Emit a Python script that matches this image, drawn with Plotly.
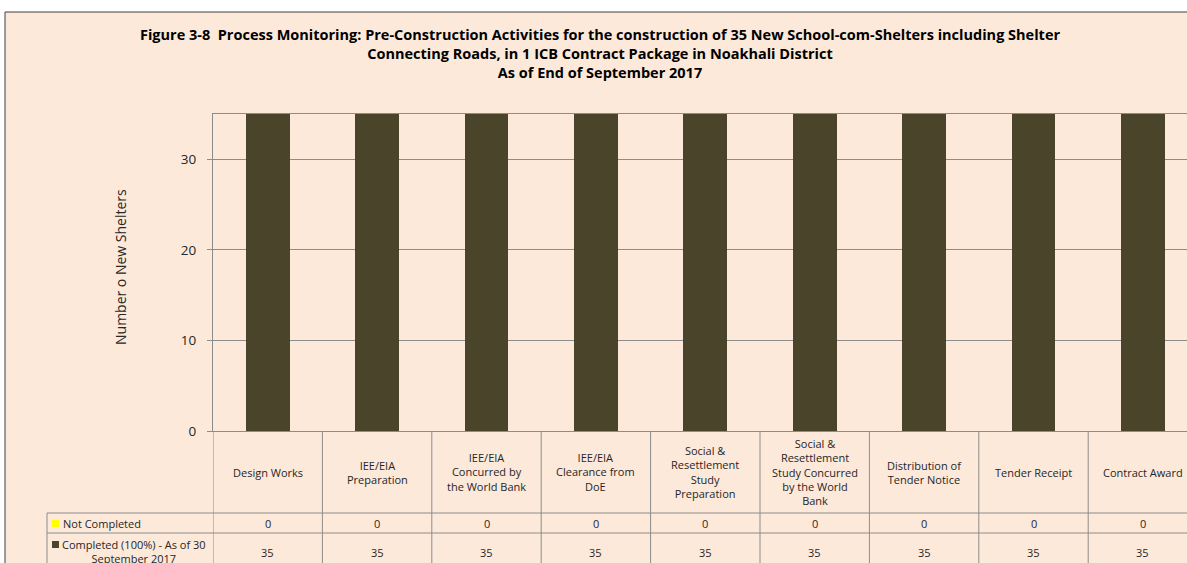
import plotly.graph_objects as go

# data
categories = ["Design Works", "IEE/EIA Preparation", "IEE/EIA Concurred by the World Bank",
              "IEE/EIA Clearance from DoE", "Social & Resettlement Study Preparation",
              "Social & Resettlement Study Concurred by the World Bank",
              "Distribution of Tender Notice", "Tender Receipt", "Contract Award"]
header_labels = ["Design Works", "IEE/EIA<br>Preparation", "IEE/EIA<br>Concurred by<br>the World Bank",
                 "IEE/EIA<br>Clearance from<br>DoE", "Social &amp;<br>Resettlement<br>Study<br>Preparation",
                 "Social &amp;<br>Resettlement<br>Study Concurred<br>by the World<br>Bank",
                 "Distribution of<br>Tender Notice", "Tender Receipt", "Contract Award"]
not_completed = [0, 0, 0, 0, 0, 0, 0, 0, 0]
completed = [35, 35, 35, 35, 35, 35, 35, 35, 35]
y_ticks = [0, 10, 20, 30]

title = ("Figure 3-8  Process Monitoring: Pre-Construction Activities for the construction of 35 New "
         "School-com-Shelters including Shelter<br>Connecting Roads, in 1 ICB Contract Package in "
         "Noakhali District<br>As of End of September 2017")

BG = "#FDE9DA"
BAR = "#4A452A"
YEL = "#FFFF00"
LINE = "#8C8C8C"
TXT = "#262626"
FONT = "Open Sans"

# plot box in pixels
W_FIG, H_FIG = 1187, 563
L, T, B = 213, 114, 431
W, H = W_FIG - L, B - T


def px_x(p):
    return (p - L) / W


def px_y(p):
    return (B - p) / H


idx = list(range(len(categories)))

fig = go.Figure()
fig.add_trace(go.Bar(x=idx, y=completed, name="Completed (100%) - As of 30 September 2017",
                     marker=dict(color=BAR, line=dict(width=0)), width=0.4))
fig.add_trace(go.Bar(x=idx, y=not_completed, name="Not Completed",
                     marker=dict(color=YEL, line=dict(width=0)), width=0.4))

shapes = []
# chart frame
shapes.append(dict(type="rect", xref="paper", yref="paper", x0=px_x(5), x1=1.2, y0=px_y(12), y1=-0.8,
                   fillcolor=BG, line=dict(color="#404040", width=1), layer="below"))
# data table: column dividers
for k in range(-1, len(categories)):
    shapes.append(dict(type="line", xref="x", yref="paper", x0=k + 0.5, x1=k + 0.5,
                       y0=0, y1=px_y(600), line=dict(color=LINE, width=1)))
# table left edge and horizontal rules
shapes.append(dict(type="line", xref="paper", yref="paper", x0=px_x(47), x1=px_x(47),
                   y0=px_y(513), y1=px_y(600), line=dict(color=LINE, width=1)))
for yy in (513, 533):
    shapes.append(dict(type="line", xref="paper", yref="paper", x0=px_x(47), x1=1.1,
                       y0=px_y(yy), y1=px_y(yy), line=dict(color=LINE, width=1)))
# legend keys
shapes.append(dict(type="rect", xref="paper", yref="paper", x0=px_x(52), x1=px_x(59),
                   y0=px_y(520), y1=px_y(527), fillcolor=YEL, line=dict(width=0)))
shapes.append(dict(type="rect", xref="paper", yref="paper", x0=px_x(52), x1=px_x(59),
                   y0=px_y(541), y1=px_y(548), fillcolor=BAR, line=dict(width=0)))

ann = []
for i, lab in enumerate(header_labels):
    ann.append(dict(x=i, y=px_y(472), xref="x", yref="paper", text=lab, showarrow=False,
                    font=dict(family=FONT, size=11, color=TXT), align="center",
                    xanchor="center", yanchor="middle"))
    ann.append(dict(x=i, y=px_y(523), xref="x", yref="paper", text=str(not_completed[i]),
                    showarrow=False, font=dict(family=FONT, size=11, color=TXT),
                    xanchor="center", yanchor="middle"))
    ann.append(dict(x=i, y=px_y(552), xref="x", yref="paper", text=str(completed[i]),
                    showarrow=False, font=dict(family=FONT, size=11, color=TXT),
                    xanchor="center", yanchor="middle"))
ann.append(dict(x=px_x(61), y=px_y(523), xref="paper", yref="paper", text="Not Completed",
                showarrow=False, font=dict(family=FONT, size=11, color=TXT),
                xanchor="left", yanchor="middle"))
ann.append(dict(x=px_x(134), y=px_y(551), xref="paper", yref="paper",
                text="Completed (100%) - As of 30<br>September 2017", showarrow=False,
                font=dict(family=FONT, size=11, color=TXT), align="center",
                xanchor="center", yanchor="middle"))
ann.append(dict(x=px_x(120), y=px_y(267), xref="paper", yref="paper", text="Number o New Shelters",
                textangle=-90, showarrow=False, font=dict(family=FONT, size=14, color=TXT),
                xanchor="center", yanchor="middle"))

fig.update_layout(
    width=W_FIG, height=H_FIG,
    margin=dict(l=L, r=0, t=T, b=H_FIG - B, pad=0),
    paper_bgcolor="white", plot_bgcolor="rgba(0,0,0,0)",
    barmode="stack", showlegend=False,
    title=dict(text=title, x=(600 - L) / W, xref="paper", xanchor="center",
               y=1 - 40 / H_FIG, yanchor="top",
               font=dict(family=FONT, size=14.5, color="black", weight="bold")),
    xaxis=dict(range=[-0.5, -0.5 + W / 109.4], showticklabels=False, ticks="",
               showgrid=False, showline=True, mirror=True, linecolor=LINE, linewidth=1,
               zeroline=False, fixedrange=True),
    yaxis=dict(range=[0, 35], tickvals=y_ticks, ticks="outside", ticklen=5, tickcolor=LINE,
               ticklabelstandoff=8, showgrid=True, gridcolor=LINE, gridwidth=1,
               showline=True, mirror=True, linecolor=LINE, linewidth=1, zeroline=False,
               tickfont=dict(family=FONT, size=13.5, color=TXT), fixedrange=True),
    shapes=shapes, annotations=ann,
)

# the page should start at the very top-left corner of the window
fig.write_html("out.html", config={"displayModeBar": False},
               post_script="document.body.style.margin = '0px';")
